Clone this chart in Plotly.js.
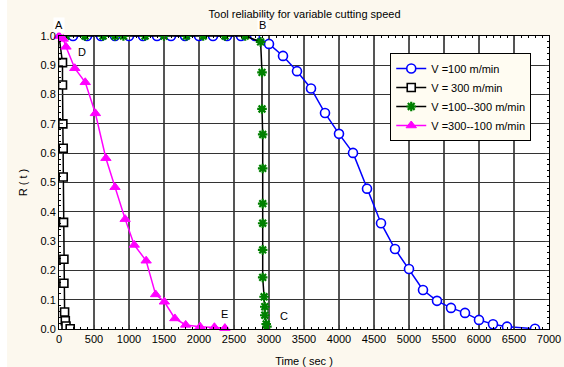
<!DOCTYPE html>
<html><head><meta charset="utf-8">
<script src="https://cdn.plot.ly/plotly-3.0.1.min.js"></script>
<style>html,body{margin:0;padding:0;background:#fff}#chart{width:564px;height:367px}</style>
</head><body><div id="chart"></div>
<script>
// V = 100 m/min
const t100 = [0,200,400,600,800,1000,1200,1400,1600,1800,2000,2200,2400,2600,2800,3000,3200,3400,3600,3800,4000,4200,4400,4600,4800,5000,5200,5400,5600,5800,6000,6200,6400,6800];
const r100 = [1,1,1,1,1,1,1,1,1,1,1,1,1,1,1,0.973,0.932,0.880,0.821,0.737,0.666,0.601,0.479,0.361,0.273,0.205,0.133,0.096,0.072,0.055,0.031,0.016,0.008,0.001];
// V = 300 m/min
const t300 = [0,50,50,55,60,60,65,70,70,80,90,100,160];
const r300 = [1,0.909,0.833,0.700,0.617,0.519,0.364,0.238,0.156,0.058,0.028,0.010,0.001];
// V = 100--300 m/min
const tUp = [0,100,370,630,800,920,1230,1500,1820,2060,2370,2660,2880,2900,2900,2910,2910,2910,2910,2910,2910,2930,2940,2940,2960,2970];
const rUp = [1,1,1,1,1,1,1,1,1,1,1,1,0.98,0.876,0.751,0.664,0.548,0.428,0.361,0.270,0.176,0.110,0.076,0.047,0.017,0.008];
// V = 300--100 m/min
const tDown = [0,60,100,225,375,520,670,800,945,1075,1245,1380,1505,1655,1810,2015,2220,2370];
const rDown = [1,0.99,0.963,0.890,0.842,0.736,0.583,0.484,0.375,0.287,0.233,0.118,0.093,0.036,0.014,0.008,0.006,0.003];

const names = ['V =100 m/min','V = 300 m/min','V =100--300 m/min','V =300--100 m/min'];
const xTicks = [0,500,1000,1500,2000,2500,3000,3500,4000,4500,5000,5500,6000,6500,7000];
const yTicks = [0,0.1,0.2,0.3,0.4,0.5,0.6,0.7,0.8,0.9,1.0];
const labels = [
  {text:'A', x:0, y:1.0, ay:'above'},
  {text:'B', x:2900, y:1.0, ay:'above'},
  {text:'D', x:330, y:0.945},
  {text:'E', x:2360, y:0.05},
  {text:'C', x:3220, y:0.044}
];

const traces = [
  {x:t100, y:r100, name:names[0], mode:'lines+markers', cliponaxis:true,
   line:{color:'#0000ff', width:1.5},
   marker:{symbol:'circle', size:9, color:'#ffffff', line:{color:'#0000ff', width:1.6}}},
  {x:t300, y:r300, name:names[1], mode:'lines+markers', cliponaxis:true,
   line:{color:'#000000', width:1.5},
   marker:{symbol:'square', size:8, color:'#ffffff', line:{color:'#000000', width:1.6}}},
  {x:tUp, y:rUp, name:names[2], mode:'lines+markers', cliponaxis:true,
   line:{color:'#000000', width:1.5},
   marker:{symbol:'asterisk-open', size:8, color:'#008000', line:{color:'#008000', width:2.2}}},
  {x:tDown, y:rDown, name:names[3], mode:'lines+markers', cliponaxis:false,
   line:{color:'#ff00ff', width:1.5},
   marker:{symbol:'triangle-up', size:9, color:'#ff00ff', line:{color:'#ff00ff', width:1}}}
];

const font = {family:'Liberation Sans, Arial, sans-serif', size:11, color:'#000'};
const annotations = labels.map(l => ({
  x:l.x, y:l.y, xref:'x', yref:'y', text:l.text, showarrow:false,
  font:font, yshift: l.ay ? 11 : 0, xshift: 0,
  bgcolor: l.ay ? '#ffffff' : 'rgba(0,0,0,0)'
}));

const layout = {
  width:564, height:367,
  margin:{l:59, r:15, t:36, b:38},
  paper_bgcolor:'#fcf8ee', plot_bgcolor:'#ffffff',
  font:font,
  title:{text:'Tool reliability for variable cutting speed', font:{family:font.family, size:11, color:'#000'}, x:0.54, xanchor:'center', y:0.962, yanchor:'middle'},
  xaxis:{range:[0,7000], tickvals:xTicks, ticktext:xTicks.map(String), ticks:'inside', ticklen:4,
    showline:true, linecolor:'#000', linewidth:1, mirror:'allticks',
    showgrid:true, gridcolor:'#555', gridwidth:1.3, zeroline:false,
    minor:{dtick:100, ticks:'inside', ticklen:2, tickcolor:'#000', showgrid:false},
    title:{text:'Time ( sec )', font:font, standoff:14}, tickfont:font},
  yaxis:{range:[0,1], tickvals:yTicks, ticktext:yTicks.map(v=>v.toFixed(1)), ticks:'inside', ticklen:4,
    showline:true, linecolor:'#000', linewidth:1, mirror:'allticks',
    showgrid:true, gridcolor:'#333', gridwidth:1.1, zeroline:false,
    minor:{dtick:0.02, ticks:'inside', ticklen:2, tickcolor:'#000', showgrid:false},
    title:{text:'R ( t )', font:font, standoff:10}, tickfont:font},
  legend:{x:0.676, y:0.942, xanchor:'left', yanchor:'top', bgcolor:'#fffcf2', bordercolor:'#000', borderwidth:1,
    font:font, tracegroupgap:0, itemwidth:30},
  showlegend:true,
  annotations:annotations,
  shapes:[{type:'rect', xref:'paper', yref:'paper', x0:-0.121, x1:-0.106, y0:-0.13, y1:1.13, fillcolor:'#ffffff', line:{width:0}, layer:'below'}]
};
Plotly.newPlot('chart', traces, layout, {displayModeBar:false, staticPlot:true});
</script></body></html>
